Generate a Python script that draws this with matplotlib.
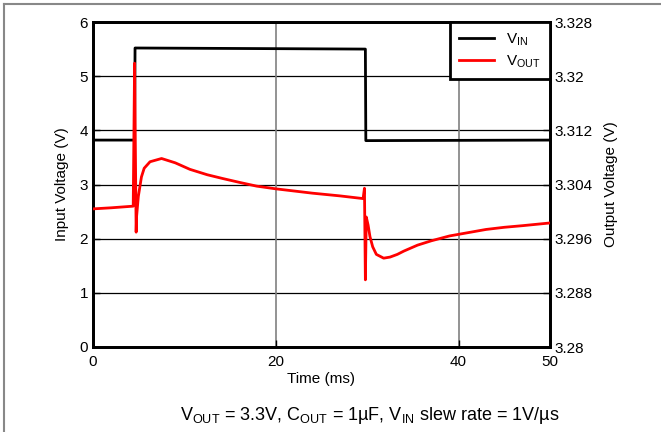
import numpy as np
import matplotlib.pyplot as plt
from matplotlib.lines import Line2D

plt.rcParams['font.family'] = ['Liberation Sans', 'DejaVu Sans']

# input voltage step (ms, V)
t_in = [0, 4.55, 4.6, 29.8, 29.85, 50]
v_in = [3.82, 3.82, 5.52, 5.50, 3.81, 3.82]

# output voltage response (ms, V), read on the input-voltage grid
t_out = [0, 2, 4.4, 4.55, 4.72, 4.77, 4.96, 5.3, 5.6, 6.24, 7.5, 9.0, 10.6, 12.5,
         14.2, 16, 17.9, 20, 22, 24, 27, 29.55, 29.7, 29.8, 29.9, 30.1, 30.3, 30.6,
         31.0, 31.8, 32.5, 33.3, 34, 35.5, 37, 39, 41, 43, 45, 47, 50]
v_grid = [2.55, 2.57, 2.60, 5.24, 2.12, 2.41, 2.78, 3.14, 3.30, 3.42, 3.48, 3.40,
          3.28, 3.18, 3.11, 3.04, 2.97, 2.92, 2.88, 2.84, 2.79, 2.74, 2.93, 1.24,
          2.40, 2.25, 2.04, 1.85, 1.71, 1.64, 1.66, 1.71, 1.77, 1.88, 1.96, 2.05,
          2.11, 2.17, 2.21, 2.24, 2.29]
v_out = [3.28 + 0.008 * v for v in v_grid]

left_ticks = [0, 1, 2, 3, 4, 5, 6]
right_ticks = [3.28, 3.288, 3.296, 3.304, 3.312, 3.32, 3.328]
right_labels = ['3.28', '3.288', '3.296', '3.304', '3.312', '3.32', '3.328']
x_ticks = [0, 20, 40, 50]

fig = plt.figure(figsize=(6.61, 4.32), dpi=100)
ax = fig.add_axes([93 / 661, 1 - 347 / 432, 457 / 661, 325 / 432])
ax2 = ax.twinx()

fs = 11
ax.set_xlim(0, 50)
ax.set_ylim(0, 6)
ax2.set_ylim(3.28, 3.328)
ax.set_xticks(x_ticks)
ax.set_yticks(left_ticks)
ax2.set_yticks(right_ticks)
ax2.set_yticklabels(right_labels)

for y in left_ticks[1:-1]:
    ax.axhline(y, color='black', lw=0.9, zorder=1)
for x in [20, 40]:
    ax.axvline(x, color='#808080', lw=1.2, zorder=1)

l1, = ax.plot(t_in, v_in, color='black', lw=2, zorder=3)
l2, = ax2.plot(t_out, v_out, color='red', lw=2, zorder=3)

for a in (ax, ax2):
    for s in a.spines.values():
        s.set_linewidth(2)
    a.tick_params(direction='in', length=5, width=1, labelsize=fs)
ax.tick_params(axis='x', pad=6)

ax.set_xlabel('Time (ms)', fontsize=fs, labelpad=2)
ax.set_ylabel('Input Voltage (V)', fontsize=fs, labelpad=8)
ax2.set_ylabel('Output Voltage (V)', fontsize=fs, labelpad=8)

leg = ax2.legend([l1, l2], ['V$_\\mathregular{IN}$', 'V$_\\mathregular{OUT}$'],
                 loc='upper right', fontsize=fs, fancybox=False, framealpha=1,
                 edgecolor='black', borderaxespad=0, handlelength=2.3,
                 borderpad=0.6, labelspacing=0.35)
leg.get_frame().set_linewidth(2)

fig.text(0.56, 1 - 415 / 432,
         'V$_\\mathregular{OUT}$ = 3.3V, C$_\\mathregular{OUT}$ = 1µF, '
         'V$_\\mathregular{IN}$ slew rate = 1V/µs',
         ha='center', va='center', fontsize=13)

# figure frame (left and top edges)
fig.add_artist(Line2D([4 / 661, 4 / 661], [0, 1 - 4 / 432], color='#888888', lw=1.5,
                      transform=fig.transFigure))
fig.add_artist(Line2D([4 / 661, 1], [1 - 4 / 432, 1 - 4 / 432], color='#888888', lw=1.5,
                      transform=fig.transFigure))

fig.savefig('out.png', dpi=100)
